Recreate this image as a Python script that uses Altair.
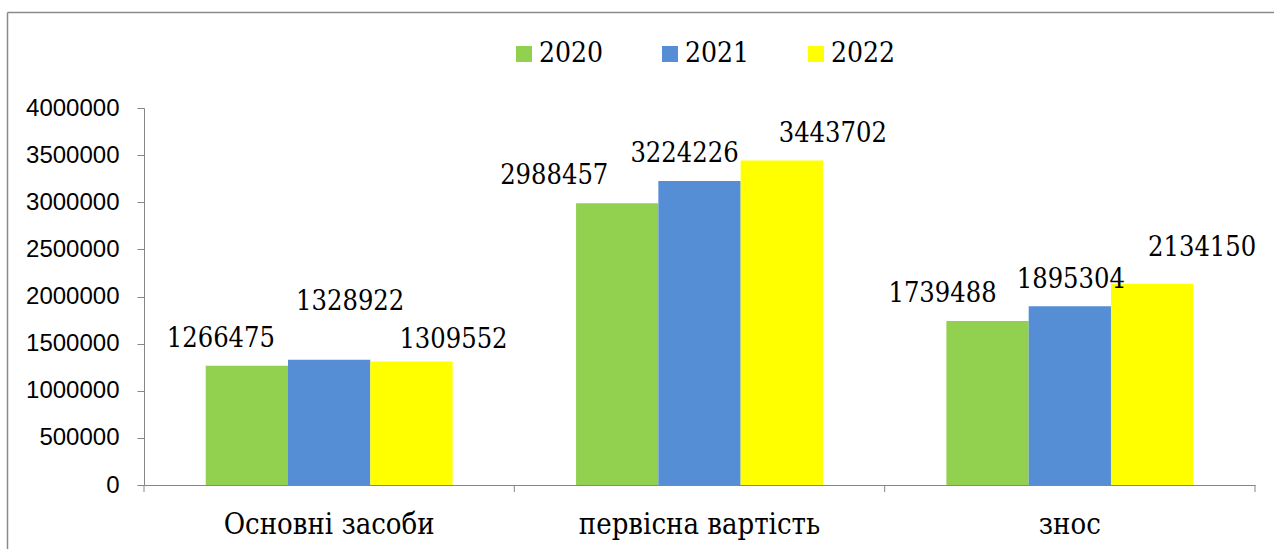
import altair as alt
import pandas as pd

categories = ["Основні засоби", "первісна вартість", "знос"]
years = ["2020", "2021", "2022"]
values_2020 = [1266475, 2988457, 1739488]
values_2021 = [1328922, 3224226, 1895304]
values_2022 = [1309552, 3443702, 2134150]
y_ticks = [0, 500000, 1000000, 1500000, 2000000, 2500000, 3000000, 3500000, 4000000]
colors = ["#92D050", "#558ED5", "#FFFF00"]

# manual label nudges (pixels), per category then per year
label_dx = [[-26, 21, 42], [-63, -15, 51], [-45, 1, 50]]
label_gap = [[19, 50, 14], [19, 19, 18], [19, 18, 28]]

series = [values_2020, values_2021, values_2022]
rows = []
for ci, c in enumerate(categories):
    for yi, y in enumerate(years):
        rows.append({"cat": c, "year": y, "value": series[yi][ci]})
df = pd.DataFrame(rows)
cats_df = pd.DataFrame({"cat": categories})

W, H = 1111, 377
AX = "#868686"
SERIF = "DejaVu Serif Condensed"

x_enc = alt.X(
    "cat:N", sort=categories,
    scale=alt.Scale(paddingInner=0, paddingOuter=0),
    axis=alt.Axis(title=None, labelAngle=0, ticks=False, tickSize=0, domainColor=AX,
                  labelFont=SERIF, labelFontSize=29, labelColor="black", labelLimit=500,
                  labelPadding=48, labelBaseline="alphabetic"),
)
xo_enc = alt.XOffset("year:N", sort=years, scale=alt.Scale(paddingInner=0, paddingOuter=0.75))
y_enc = alt.Y(
    "value:Q", scale=alt.Scale(domain=[0, 4000000], nice=False),
    axis=alt.Axis(values=y_ticks, format="d", title=None, grid=False, tickSize=7,
                  labelPadding=18, labelFont="Liberation Sans", labelFontSize=24,
                  labelColor="black", domainColor=AX, tickColor=AX),
)

bars = alt.Chart(df).mark_bar().encode(
    x=x_enc, xOffset=xo_enc, y=y_enc,
    color=alt.Color("year:N", scale=alt.Scale(domain=years, range=colors),
                    legend=alt.Legend(orient="none", direction="horizontal", legendX=366, legendY=-68,
                                      title=None, symbolType="square", symbolSize=256,
                                      symbolStrokeWidth=0, labelFont=SERIF,
                                      labelFontSize=28, labelOffset=1, columnPadding=52,
                                      labelColor="black")),
)

layers = [bars]
for ci, c in enumerate(categories):
    for yi, y in enumerate(years):
        t = alt.Chart(df).transform_filter(
            (alt.datum.cat == c) & (alt.datum.year == y)
        ).mark_text(font=SERIF, fontSize=27, baseline="alphabetic", color="black",
                    dx=label_dx[ci][yi], dy=-label_gap[ci][yi]).encode(
            x=alt.X("cat:N", sort=categories), xOffset=alt.XOffset("year:N", sort=years),
            y=alt.Y("value:Q"), text=alt.Text("value:Q", format="d"))
        layers.append(t)

ticks = alt.Chart(cats_df).mark_rule(color=AX).encode(
    x=alt.X("cat:N", sort=categories, bandPosition=0), y=alt.value(H), y2=alt.value(H + 7))
end_tick = alt.Chart(cats_df).transform_filter(alt.datum.cat == categories[-1]).mark_rule(color=AX).encode(
    x=alt.X("cat:N", sort=categories, bandPosition=1), y=alt.value(H), y2=alt.value(H + 7))
layers += [ticks, end_tick]

one = pd.DataFrame({"a": [0]})
left_border = alt.Chart(one).mark_rule(color="#8a8a8a", strokeWidth=1.5).encode(
    x=alt.value(-136.5), y=alt.value(-95.5), y2=alt.value(460))
top_border = alt.Chart(one).mark_rule(color="#8a8a8a", strokeWidth=1.5).encode(
    x=alt.value(-136.5), x2=alt.value(1140), y=alt.value(-95.5))
layers += [left_border, top_border]

chart = alt.layer(*layers).properties(
    width=W, height=H,
    autosize=alt.AutoSizeParams(type="none"),
    padding={"left": 144, "top": 108, "right": 19, "bottom": 64},
).configure_view(stroke=None)

chart.save("out.html", embed_options={"renderer": "svg", "actions": False})
